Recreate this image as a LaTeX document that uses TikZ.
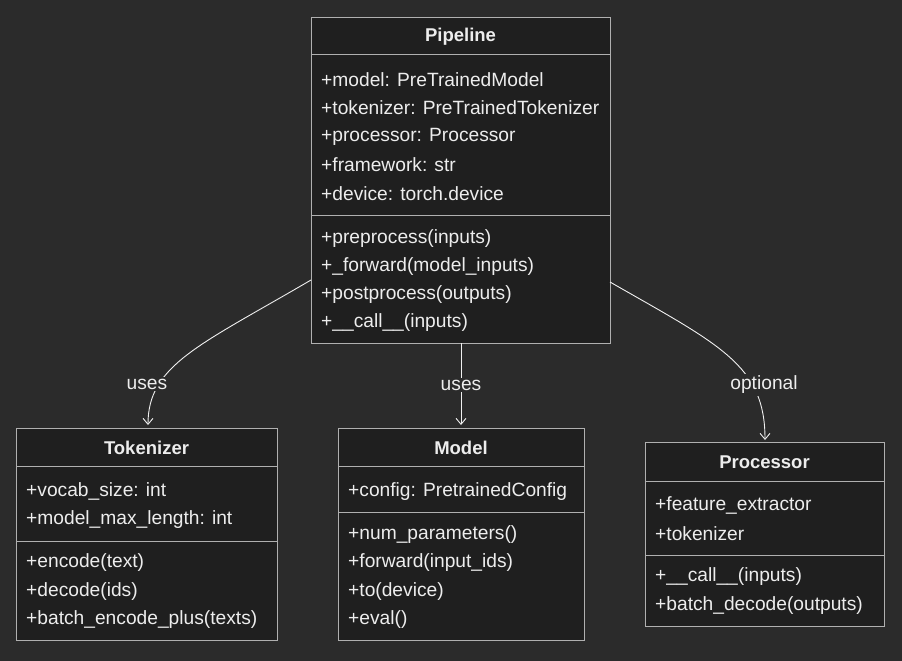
\documentclass[tikz,border=0pt]{standalone}
\usepackage{fontspec}
\setmainfont{Liberation Sans}
\usetikzlibrary{arrows.meta}
\definecolor{bg}{HTML}{2B2B2B}
\definecolor{boxfill}{HTML}{1F1F1F}
\definecolor{edge}{HTML}{B0B0B0}
\definecolor{txt}{HTML}{EDEDED}
\begin{document}
\begin{tikzpicture}[x=1pt,y=-1pt,
  box/.style={draw=edge,fill=boxfill,line width=1pt,inner sep=0pt,anchor=north west},
  ttl/.style={text=txt,font=\fontsize{18.5}{20}\selectfont\bfseries,anchor=center},
  mem/.style={text=txt,font=\fontsize{19.2}{20}\selectfont,anchor=west,inner sep=0pt},
  lbl/.style={text=txt,font=\fontsize{19.2}{20}\selectfont,fill=bg,inner sep=2pt},
  conn/.style={draw=txt!85,line width=0.9pt,-{Straight Barb[length=6pt,width=10pt]}}]
\fill[bg] (0,0) rectangle (902,661);
\useasboundingbox (0,0) rectangle (902,661);
% Pipeline
\node[box,minimum width=299pt,minimum height=326pt] (pip) at (311,17) {};
\draw[edge,line width=1pt] (311,55) -- (610,55) (311,215) -- (610,215);
\node[ttl] (pipt) at (460.5,37) {Pipeline};
\foreach \t/\y [count=\i] in {{+model: PreTrainedModel}/80,{+tokenizer: PreTrainedTokenizer}/108,{+processor: Processor}/137,{+framework: str}/165,{+device: torch.device}/194,{+preprocess(inputs)}/239,{+\_forward(model\_inputs)}/267,{+postprocess(outputs)}/295,{+\_\_call\_\_(inputs)}/323}
  \node[mem] (pm\i) at (321,\y) {\t};
% Tokenizer
\node[box,minimum width=261pt,minimum height=212pt] (tok) at (16,428) {};
\draw[edge,line width=1pt] (16,466) -- (277,466) (16,541) -- (277,541);
\node[ttl] (tokt) at (146.5,448) {Tokenizer};
\foreach \t/\y [count=\i] in {{+vocab\_size: int}/491,{+model\_max\_length: int}/520,{+encode(text)}/563,{+decode(ids)}/592,{+batch\_encode\_plus(texts)}/620}
  \node[mem] (tm\i) at (26,\y) {\t};
% Model
\node[box,minimum width=246pt,minimum height=212pt] (mod) at (338,428) {};
\draw[edge,line width=1pt] (338,466) -- (584,466) (338,512) -- (584,512);
\node[ttl] (modt) at (461,448) {Model};
\foreach \t/\y [count=\i] in {{+config: PretrainedConfig}/492,{+num\_parameters()}/535,{+forward(input\_ids)}/563,{+to(device)}/592,{+eval()}/620}
  \node[mem] (mm\i) at (348,\y) {\t};
% Processor
\node[box,minimum width=239pt,minimum height=184pt] (proc) at (645,442) {};
\draw[edge,line width=1pt] (645,481) -- (884,481) (645,555) -- (884,555);
\node[ttl] (proct) at (764.5,462) {Processor};
\foreach \t/\y [count=\i] in {{+feature\_extractor}/505,{+tokenizer}/534,{+\_\_call\_\_(inputs)}/577,{+batch\_decode(outputs)}/606}
  \node[mem] (qm\i) at (655,\y) {\t};
% connectors
\coordinate (pl) at (311,280);
\coordinate (pr) at (610,282);
\coordinate (pb) at (461,343);
\draw[conn] (pl) .. controls (200,345) and (148,365) .. (148,425);
\draw[conn] (pb) -- (461,425);
\draw[conn] (pr) .. controls (720,345) and (765,365) .. (765,440);
\node[lbl] (l1) at (147,384) {uses};
\node[lbl] (l2) at (461,385) {uses};
\node[lbl] (l3) at (764,385) {optional};
\end{tikzpicture}
\end{document}
